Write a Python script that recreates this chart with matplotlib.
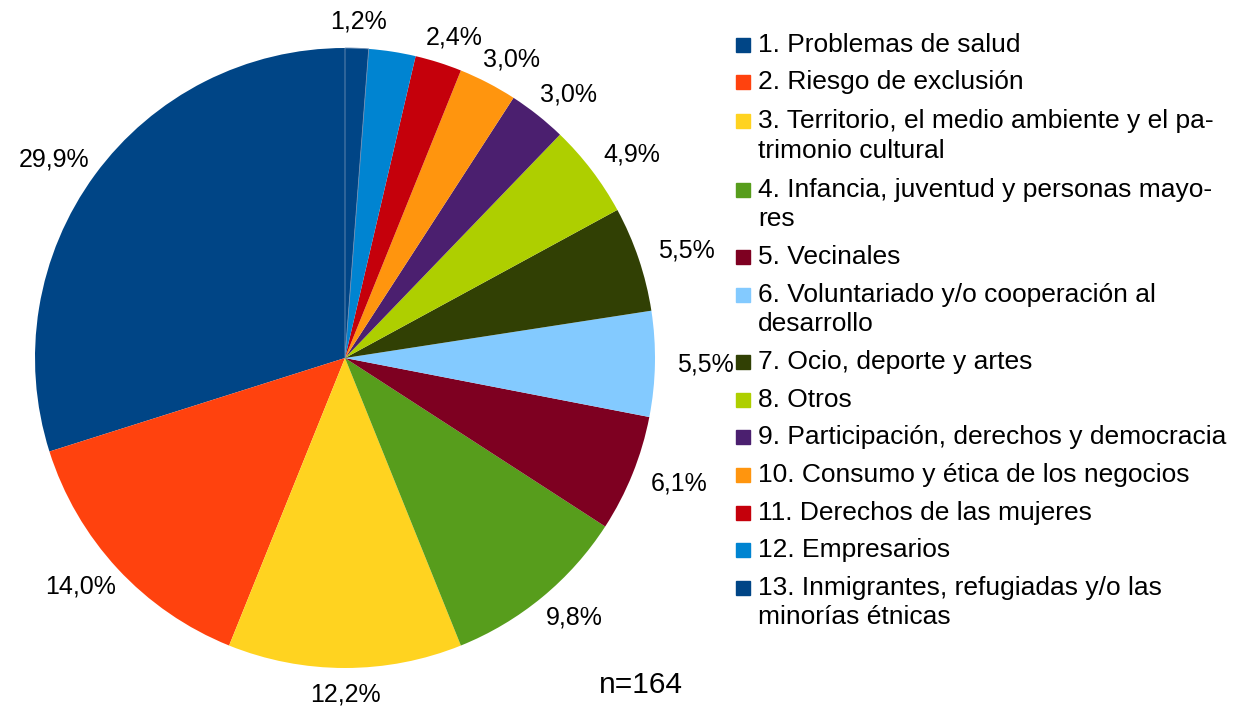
import matplotlib.pyplot as plt
from matplotlib.patches import Rectangle
import numpy as np

plt.rcParams['font.family'] = ['Liberation Sans', 'DejaVu Sans']

# data: counts per category (n=164), shown as percent
categories = ["1. Problemas de salud",
              "2. Riesgo de exclusión",
              "3. Territorio, el medio ambiente y el pa-\ntrimonio cultural",
              "4. Infancia, juventud y personas mayo-\nres",
              "5. Vecinales",
              "6. Voluntariado y/o cooperación al\ndesarrollo",
              "7. Ocio, deporte y artes",
              "8. Otros",
              "9. Participación, derechos y democracia",
              "10. Consumo y ética de los negocios",
              "11. Derechos de las mujeres",
              "12. Empresarios",
              "13. Inmigrantes, refugiadas y/o las\nminorías étnicas"]
counts = [49, 23, 20, 16, 10, 9, 9, 8, 5, 5, 4, 4, 2]
show_label = [True] * 13
show_label[11] = False  # label of 12 is hidden in the original
colors = ['#004586', '#ff420e', '#ffd320', '#579d1c', '#7e0021', '#83caff',
          '#314004', '#aecf00', '#4b1f6f', '#ff950e', '#c5000b', '#0084d1',
          '#004586']

total = sum(counts)
pct = [100.0 * c / total for c in counts]
labels = [('%.1f%%' % p).replace('.', ',') if s else '' for p, s in zip(pct, show_label)]

W, H = 1242, 706
fig = plt.figure(figsize=(W / 100, H / 100), dpi=100)

# pie: centre (345, 358), radius 310 px
cx, cy, r = 345, 358, 310
ax = fig.add_axes([(cx - r) / W, (H - cy - r) / H, 2 * r / W, 2 * r / H])
wedges, texts = ax.pie(counts, labels=labels, colors=colors, startangle=90,
                       counterclock=True, labeldistance=1.05,
                       wedgeprops=dict(linewidth=0),
                       textprops=dict(fontsize=18, color='black'))
# thin seam between the two slices of the same colour
wedges[-1].set_edgecolor('#6f8fb5')
wedges[-1].set_linewidth(0.6)

# push labels outward so the box touches the circle (LibreOffice style)
kx, ky = 35.0 / r, 11.0 / r
for w, t in zip(wedges, texts):
    ang = np.deg2rad((w.theta1 + w.theta2) / 2)
    x0, y0 = t.get_position()
    t.set_position((x0 + kx * np.cos(ang), y0 + ky * np.sin(ang)))
    t.set_ha('center')
    t.set_va('center')
ax.set_xlim(-1, 1)
ax.set_ylim(-1, 1)
ax.set_aspect('auto')

# legend drawn by hand
row_y = [45, 82, 121, 190, 257, 295, 362, 400, 437, 475, 513, 550, 588]
for name, col, y in zip(categories, colors, row_y):
    fig.patches.append(Rectangle((736 / W, 1 - (y + 7) / H), 14 / W, 14 / H,
                                 transform=fig.transFigure, color=col))
    for k, ln in enumerate(name.split('\n')):
        fig.text(758 / W, 1 - (y + 29.5 * k) / H, ln, fontsize=19,
                 va='center', ha='left')

fig.text(641 / W, 1 - 685 / H, 'n=164', fontsize=21.5, va='center', ha='center')

fig.savefig('out.png', dpi=100)
